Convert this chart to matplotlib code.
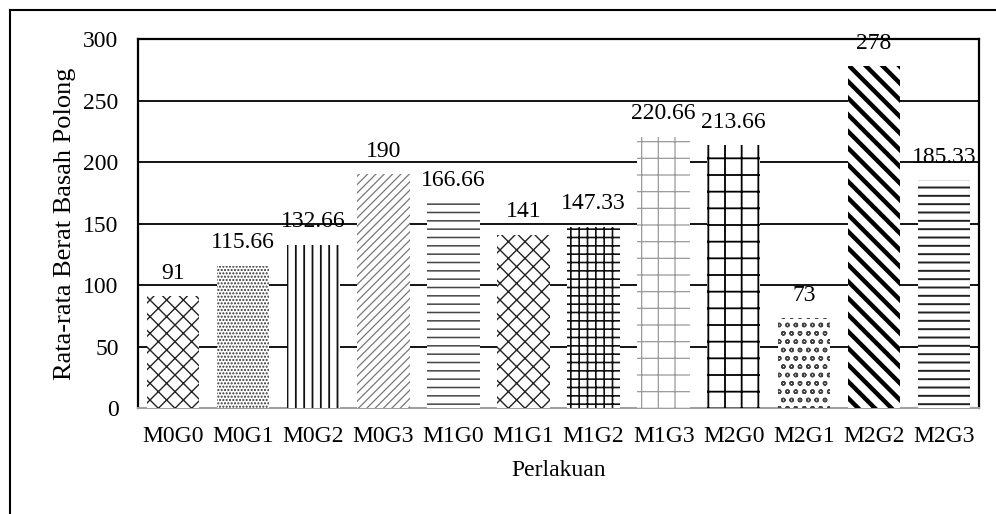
import matplotlib.pyplot as plt
from matplotlib.lines import Line2D
import numpy as np

# Data
perlakuan = ["M0G0", "M0G1", "M0G2", "M0G3", "M1G0", "M1G1",
             "M1G2", "M1G3", "M2G0", "M2G1", "M2G2", "M2G3"]
berat = [91, 115.66, 132.66, 190, 166.66, 141,
         147.33, 220.66, 213.66, 73, 278, 185.33]
label_teks = ["91", "115.66", "132.66", "190", "166.66", "141",
              "147.33", "220.66", "213.66", "73", "278", "185.33"]

# Fill patterns for each treatment (hatch, colour, hatch line width)
pola = ["xx", ".....", "||", "////", "--", "xx",
        "++", "+", "+", "oo", "\\\\", "--"]
warna = ["#222222", "#333333", "#111111", "#777777", "#444444", "#222222",
         "#111111", "#999999", "#000000", "#444444", "#000000", "#222222"]
tebal = [1.0, 1.0, 1.3, 0.9, 1.1, 1.0, 1.2, 0.9, 1.3, 1.0, 3.2, 1.4]

plt.rcParams['font.family'] = ['Liberation Serif', 'DejaVu Serif']

fig = plt.figure(figsize=(9.96, 5.14), dpi=100)
ax = fig.add_axes([0.1386, 0.206, 0.983 - 0.1386, 0.924 - 0.206])

x = np.arange(len(perlakuan))
bars = ax.bar(x, berat, width=0.75, color='white', linewidth=0, zorder=3)
for b, h, c, lw in zip(bars, pola, warna, tebal):
    b.set_hatch(h)
    b.set_edgecolor(c)
    b.set_linewidth(0)
    if hasattr(b, 'set_hatch_linewidth'):
        b.set_hatch_linewidth(lw)

for xi, v, t in zip(x, berat, label_teks):
    ax.annotate(t, (xi, v), xytext=(0, 9), textcoords='offset points',
                ha='center', va='bottom', fontsize=17, zorder=4)

ax.set_ylim(0, 300)
ax.set_xlim(-0.5, len(perlakuan) - 0.5)
ax.set_yticks([0, 50, 100, 150, 200, 250, 300])
ax.set_xticks(x)
ax.set_xticklabels(perlakuan)
ax.tick_params(length=0, labelsize=17)
ax.tick_params(axis='y', pad=14)
ax.tick_params(axis='x', pad=13)
ax.yaxis.grid(True, color='black', linewidth=1.3, zorder=0)
ax.set_axisbelow(True)

for s in ['left', 'top', 'right']:
    ax.spines[s].set_linewidth(1.6)
    ax.spines[s].set_color('black')
ax.spines['bottom'].set_color('#a0a0a0')
ax.spines['bottom'].set_linewidth(1.5)

ax.set_ylabel('Rata-rata Berat Basah Polong', fontsize=19, labelpad=5)
ax.set_xlabel('Perlakuan', fontsize=17, labelpad=9)

# Outer frame around the chart
fig.add_artist(Line2D([10 / 996, 10 / 996], [0, 1 - 10 / 514],
                      transform=fig.transFigure, color='black', linewidth=1.5))
fig.add_artist(Line2D([10 / 996, 1], [1 - 10 / 514, 1 - 10 / 514],
                      transform=fig.transFigure, color='black', linewidth=1.5))

fig.savefig('out.png', dpi=100)
